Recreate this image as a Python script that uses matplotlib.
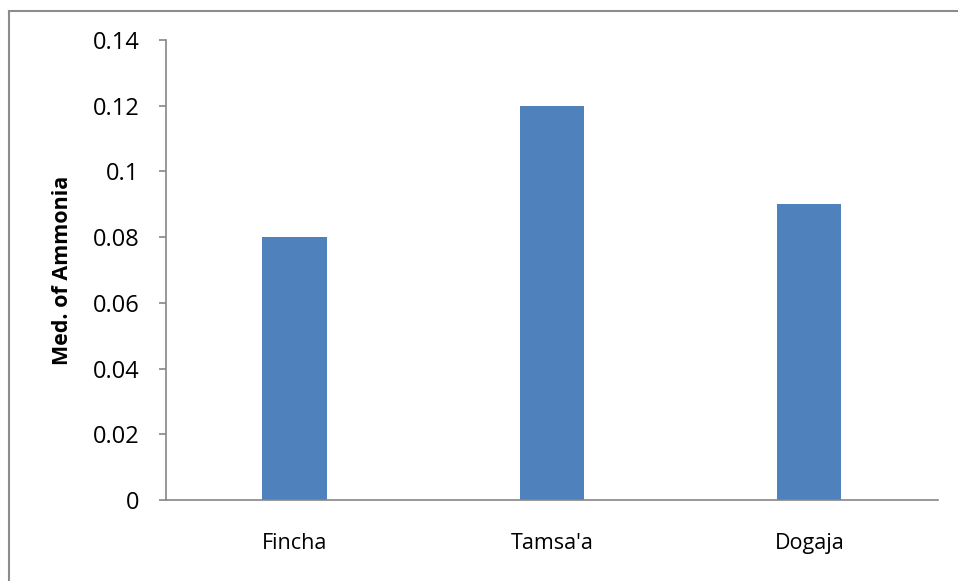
import matplotlib.pyplot as plt
from matplotlib.lines import Line2D

# ammonia medians per site
sites = ["Fincha", "Tamsa'a", "Dogaja"]
ammonia = [0.08, 0.12, 0.09]
yticks = [0, 0.02, 0.04, 0.06, 0.08, 0.1, 0.12, 0.14]
ytick_labels = ["0", "0.02", "0.04", "0.06", "0.08", "0.1", "0.12", "0.14"]

plt.rcParams['font.family'] = ['Open Sans', 'DejaVu Sans']

W, H = 958, 581
fig = plt.figure(figsize=(W / 100, H / 100), dpi=100)
ax = fig.add_axes([166 / W, 1 - 500 / H, (938 - 166) / W, (500 - 40) / H])

x = range(len(sites))
ax.bar(x, ammonia, width=0.25, color='#4F81BD', zorder=2)

ax.set_xlim(-0.5, len(sites) - 0.5)
ax.set_ylim(0, 0.14)
ax.set_yticks(yticks)
ax.set_yticklabels(ytick_labels, fontsize=17)
ax.set_xticks(list(x))
ax.set_xticklabels(sites, fontsize=15.5)
ax.tick_params(axis='x', length=0, pad=24)
ax.tick_params(axis='y', length=5, width=1.2, color='#868686', pad=14)

for side in ['top', 'right']:
    ax.spines[side].set_visible(False)
for side in ['left', 'bottom']:
    ax.spines[side].set_color('#868686')
    ax.spines[side].set_linewidth(1.2)

ax.set_ylabel("Med. of Ammonia", fontsize=15.5, fontweight='bold', labelpad=14)

# chart frame (left and top edges)
fig.add_artist(Line2D([9 / W, 9 / W], [0, 1 - 11 / H], color='#8c8c8c', lw=1.5))
fig.add_artist(Line2D([9 / W, 1], [1 - 11 / H, 1 - 11 / H], color='#8c8c8c', lw=1.5))

fig.savefig('out.png', dpi=100)
